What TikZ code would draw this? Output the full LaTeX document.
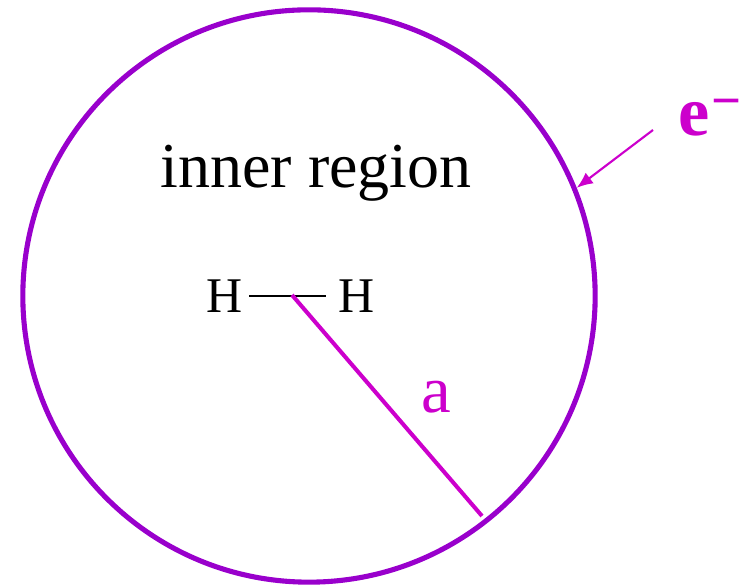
\documentclass[tikz,border=0pt]{standalone}
\usepackage{fontspec}
\setmainfont{Liberation Serif}
\usepackage{tikz}
\usetikzlibrary{arrows}
\usetikzlibrary{arrows.meta}
\definecolor{cviolet}{HTML}{9900CC}
\definecolor{cmag}{HTML}{CC00CC}
\newcommand{\elec}{\textbf{e}\kern0.5pt\raisebox{5pt}{\fontsize{15}{15}\selectfont\textbf{−}}}

\begin{document}
\begin{tikzpicture}[x=0.01cm,y=-0.01cm]
\tikzstyle{atom}=[font=\fontsize{14.2}{16}\selectfont,inner sep=1.5pt]
\tikzstyle{lbl}=[font=\fontsize{18.2}{20}\selectfont,anchor=base]
\useasboundingbox (0,0) rectangle (748,586);
\node[draw=cviolet,circle,line width=1.45pt,minimum size=5.72cm,inner sep=0pt] (circ) at (309,296) {};
\node[lbl] (inner) at (316,188) {inner region};
\node[atom] (h1) at (225,296) {H};
\node[atom,inner sep=3.5pt] (h2) at (357,296) {H};
\draw[line width=0.45pt] (h1.east) -- (h2.west);
\coordinate (rs) at (292,295);
\coordinate (re) at (482,516);
\draw[cmag,line width=1.15pt] (rs) -- (re);
\node[lbl,text=cmag,font=\fontsize{19}{20}\selectfont] (a) at (436,413) {a};
\node[lbl,anchor=base west,inner sep=0pt,text=cmag,font=\fontsize{20}{22}\selectfont] (e) at (678,136) {\elec};
\coordinate (tail) at (653,130);
\draw[cmag,line width=0.6pt,-{Latex[length=4.6pt,width=3.8pt]}] (tail) -- (circ.22);
\end{tikzpicture}
\end{document}
